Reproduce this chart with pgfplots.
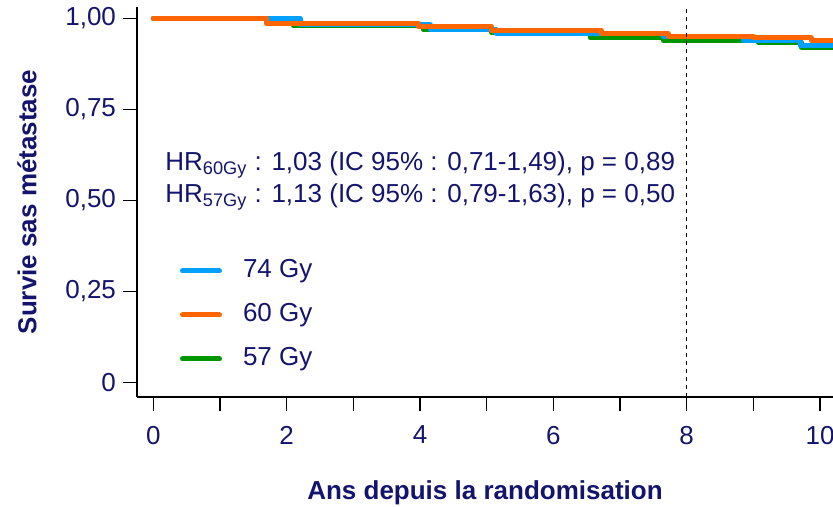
\documentclass[border=0pt]{standalone}
\usepackage{fontspec}
\setmainfont{Liberation Sans}
\usepackage{pgfplots}
\pgfplotsset{compat=1.18}

\definecolor{navytxt}{RGB}{20,20,110}
\definecolor{c74}{RGB}{0,160,255}
\definecolor{c60}{RGB}{255,102,0}
\definecolor{c57}{RGB}{0,150,0}

\newcommand{\chartfont}{\fontsize{13}{16}\selectfont}

\begin{document}
\begin{tikzpicture}
\begin{axis}[
  x=33.333pt, y=182pt,
  xmin=-0.245, xmax=10.195,
  ymin=-0.0404, ymax=1.031,
  axis lines=left,
  axis line style={-, line width=0.75pt, black},
  xtick={0,2,4,6,8,10},
  xticklabels={0,2,4,6,8,10},
  minor xtick={1,3,5,7,9},
  ytick={0,0.25,0.5,0.75,1},
  yticklabels={0,{0,25},{0,50},{0,75},{1,00}},
  tick align=outside,
  major tick length=7pt, minor tick length=7pt,
  tick style={black, line width=0.75pt},
  tick label style={font=\chartfont, text=navytxt},
  /pgf/number format/assume math mode=true,
  xticklabel style={yshift=-4pt},
  xlabel={Ans depuis la randomisation},
  ylabel={Survie sas métastase},
  xlabel style={at={(rel axis cs:0.5,-0.246)}, anchor=center, font=\chartfont\bfseries, text=navytxt},
  ylabel style={at={(rel axis cs:-0.158,0.5)}, anchor=center, font=\chartfont\bfseries, text=navytxt},
  legend style={draw=none, fill=none, inner sep=0pt, outer sep=0pt,
    at={(axis cs:0.40,0.185)}, anchor=west,
    row sep=9.7pt, font=\chartfont, text=navytxt,
    nodes={inner sep=0pt, text height=9.5pt, text depth=2.8pt},
    /tikz/every odd column/.append style={column sep=10.5pt}},
  legend cell align=left,
  legend image code/.code={\draw[#1, line cap=round] (1.25pt,0pt) -- (19.75pt,0pt);},
  every axis plot/.append style={line width=2.5pt, line cap=round, line join=round},
]
\addlegendimage{c74}\addlegendentry{74 Gy}
\addlegendimage{c60}\addlegendentry{60 Gy}
\addlegendimage{c57}\addlegendentry{57 Gy}

% 57 Gy
\addplot[const plot, c57, forget plot] coordinates {
  (0,1) (2.1,0.979) (4.05,0.969) (5.07,0.962) (6.55,0.946)
  (7.65,0.939) (9.07,0.933) (9.72,0.920) (10.195,0.920)};
% 74 Gy
\addplot[const plot, c74, forget plot] coordinates {
  (0,1) (2.2,0.982) (4.15,0.968) (5.14,0.957) (7.65,0.951)
  (8.85,0.940) (9.7,0.926) (10.195,0.926)};
% 60 Gy
\addplot[const plot, c60, forget plot] coordinates {
  (0,1) (1.7,0.986) (3.97,0.977) (5.07,0.966) (6.72,0.957)
  (7.72,0.951) (9.0,0.946) (9.87,0.938) (10.195,0.938)};

% reference line at 8 years
\addplot[black, line width=0.6pt, line cap=butt, dash pattern=on 2.2pt off 1.8pt, forget plot]
  coordinates {(8,-0.0404) (8,1.031)};

\node[anchor=west, align=left, inner sep=0pt, text=navytxt, font=\chartfont]
  at (axis cs:0.175,0.553)
  {HR\textsubscript{60Gy} : 1,03 (IC 95\% : 0,71-1,49), p = 0,89\\
   HR\textsubscript{57Gy} : 1,13 (IC 95\% : 0,79-1,63), p = 0,50};
\end{axis}
\pgfresetboundingbox
\path[use as bounding box]
  ([shift={(-68.5pt,-55pt)}]current axis.south west)
  rectangle ([shift={(348pt,198.5pt)}]current axis.south west);
\end{tikzpicture}
\end{document}
